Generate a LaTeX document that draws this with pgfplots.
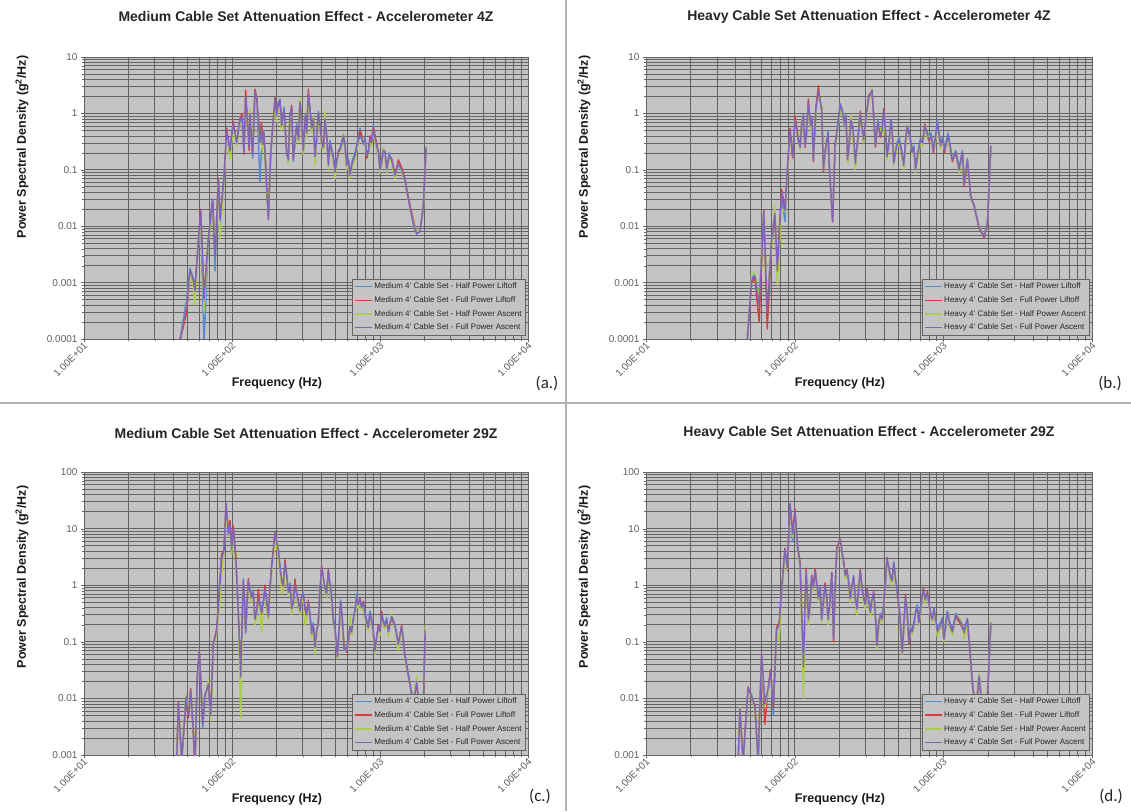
\documentclass[border=0pt]{standalone}
\usepackage{fontspec}
\setmainfont{Liberation Sans}
\newfontfamily\calib{Carlito}
\usepackage{pgfplots}
\usepackage{pgfplotstable}
\pgfplotsset{compat=1.18}

\definecolor{plotbg}{RGB}{196,196,196}
\definecolor{gridc}{RGB}{100,100,100}
\definecolor{tickc}{RGB}{95,95,95}
\definecolor{sblue}{RGB}{86,140,205}
\definecolor{sred}{RGB}{215,60,60}
\definecolor{sgreen}{RGB}{172,205,82}
\definecolor{spurple}{RGB}{128,100,186}

\pgfplotstableread{
f A B C D
43 0.00006 0.00006 0.00006 0.00006
49.4 0.0005 0.0003 0.0004 0.0004
52.0 0.0018 0.0015 0.0014 0.0017
54.8 0.0012 0.0010 0.0009 0.0011
56.2 0.0008 0.0008 0.0004 0.0007
57.7 0.0021 0.0020 0.0016 0.0019
61.4 0.017 0.020 0.015 0.019
64.7 0.00008 0.0006 0.0003 0.0005
69.2 0.0060 0.0055 0.0050 0.0058
74.0 0.031 0.027 0.024 0.029
76.8 0.0016 0.0030 0.0040 0.0028
80.8 0.060 0.070 0.055 0.066
83.0 0.012 0.014 0.006 0.013
88.3 0.075 0.065 0.060 0.070
92.0 0.45 0.55 0.40 0.50
96.9 0.25 0.20 0.15 0.22
102 0.60 0.72 0.55 0.67
107.5 0.32 0.28 0.26 0.30
113 0.70 0.80 0.65 0.76
117 0.8 1.0 0.7 0.9
120.5 0.22 0.19 0.25 0.20
123.7 1.8 2.6 1.6 2.0
128.9 0.45 0.38 0.35 0.40
130.5 0.28 0.22 0.3 0.25
132.3 0.9 1.1 1.2 1.0
137.9 0.16 0.20 0.22 0.18
143 2.2 2.7 2.0 2.4
146.8 1.7 1.9 1.5 1.8
154.6 0.06 0.35 0.28 0.30
158 0.2 0.7 0.5 0.6
161 0.25 0.45 0.22 0.28
164 0.5 0.4 0.38 0.45
167 0.22 0.20 0.18 0.20
176 0.015 0.014 0.016 0.013
182.6 0.22 0.18 0.20 0.20
195.3 1.7 1.9 1.4 1.8
200 0.95 0.85 0.7 0.9
205.7 1.6 1.4 1.2 1.5
211 1.8 1.6 1.3 1.7
216.6 0.55 0.65 0.5 0.6
224.6 1.3 1.1 0.9 1.2
234.2 0.18 0.22 0.25 0.2
240 0.17 0.14 0.13 0.15
246.6 1.0 0.85 0.8 0.9
253 1.2 1.4 1.1 1.3
259.6 0.14 0.16 0.17 0.15
266 0.33 0.28 0.26 0.3
273.5 0.65 0.55 0.5 0.6
281 0.38 0.33 0.3 0.35
288 1.5 1.7 1.9 1.6
295 0.85 0.75 0.7 0.8
303 0.25 0.2 0.18 0.22
313 0.95 0.85 0.8 0.9
320 0.5 0.42 0.38 0.45
328 2.1 2.7 1.9 2.3
336 1.3 1.1 1.0 1.2
345 0.5 0.6 0.45 0.55
354 0.85 0.75 0.9 0.8
364 0.19 0.16 0.12 0.17
373 0.38 0.33 0.3 0.35
383 1.1 0.95 0.85 1.0
393 0.65 0.55 0.5 0.6
404 0.28 0.33 0.26 0.3
414 0.27 0.23 0.22 0.25
425 0.75 0.7 1.1 0.8
436 0.45 0.38 0.35 0.4
448 0.13 0.12 0.1 0.12
459 0.33 0.28 0.26 0.3
471 0.24 0.2 0.2 0.22
484 0.17 0.15 0.14 0.16
497 0.1 0.09 0.07 0.09
510 0.15 0.13 0.12 0.14
523 0.18 0.22 0.19 0.2
544 0.28 0.24 0.22 0.25
565 0.42 0.38 0.45 0.4
580 0.3 0.26 0.24 0.28
595 0.13 0.11 0.1 0.12
611 0.16 0.14 0.13 0.15
627 0.09 0.08 0.07 0.08
652 0.15 0.13 0.12 0.14
678 0.2 0.17 0.15 0.18
705 0.33 0.28 0.26 0.3
733 0.55 0.5 0.38 0.42
772 0.28 0.32 0.35 0.3
792 0.38 0.33 0.3 0.35
813 0.2 0.16 0.18 0.18
834 0.22 0.19 0.18 0.2
856 0.33 0.4 0.3 0.35
878 0.33 0.28 0.26 0.3
901 0.65 0.55 0.45 0.5
949 0.25 0.3 0.22 0.27
975 0.22 0.19 0.18 0.2
1000 0.11 0.1 0.09 0.1
1027 0.15 0.13 0.12 0.14
1053 0.2 0.24 0.25 0.22
1080 0.22 0.19 0.18 0.2
1110 0.11 0.1 0.09 0.1
1155 0.2 0.17 0.16 0.18
1199 0.14 0.16 0.13 0.15
1263 0.09 0.08 0.07 0.08
1330 0.12 0.15 0.13 0.13
1401 0.1 0.11 0.09 0.1
1475 0.06 0.07 0.065 0.066
1554 0.03 0.032 0.028 0.03
1680 0.011 0.013 0.012 0.011
1769 0.0072 0.0078 0.008 0.0075
1863 0.0082 0.0079 0.0085 0.008
1963 0.021 0.023 0.02 0.022
2046 0.24 0.25 0.26 0.25
}\tabA

\pgfplotstableread{
f A B C D
47.4 0.00006 0.00006 0.00006 0.00006
51.2 0.0012 0.0010 0.0014 0.0011
54 0.0014 0.0012 0.0015 0.0013
57.7 0.0005 0.0002 0.0005 0.0004
62 0.016 0.019 0.017 0.018
65.4 0.0004 0.00015 0.0005 0.0003
70 0.0055 0.005 0.0045 0.006
73.6 0.018 0.015 0.025 0.017
76.4 0.002 0.0018 0.0009 0.0016
81.7 0.035 0.045 0.02 0.04
86 0.012 0.02 0.018 0.019
89 0.09 0.08 0.07 0.085
93 0.45 0.55 0.35 0.5
96.9 0.2 0.16 0.22 0.17
100.5 0.7 0.9 0.65 0.76
106 0.3 0.36 0.33 0.34
109 0.27 0.23 0.22 0.25
111.5 0.6 0.7 0.75 0.67
114.5 0.95 0.85 0.8 0.9
117.5 0.3 0.25 0.28 0.27
120.5 0.55 0.45 0.42 0.5
123.7 1.5 1.8 1.4 1.6
126 0.95 0.85 0.8 0.9
128 0.55 0.65 0.5 0.6
131 0.85 0.75 0.7 0.8
133.5 0.17 0.14 0.16 0.15
139 1.1 1.3 1.0 1.2
144.5 2.3 3.1 2.2 2.6
148 1.8 1.6 1.5 1.7
152 1.1 1.3 1.4 1.2
156 0.12 0.09 0.1 0.1
160 0.22 0.18 0.17 0.2
164.5 0.3 0.36 0.4 0.34
167.5 0.5 0.42 0.38 0.45
171 0.13 0.11 0.12 0.12
180 0.013 0.012 0.014 0.012
187 0.25 0.3 0.24 0.27
195 0.65 0.55 0.5 0.6
202.5 1.5 1.3 1.2 1.4
209 1.2 1.0 0.95 1.1
215.5 0.6 0.75 0.65 0.67
221 0.95 0.85 0.8 0.9
227 0.16 0.14 0.13 0.15
233 0.33 0.28 0.26 0.3
239 0.7 0.8 0.9 0.76
247 0.55 0.45 0.42 0.5
255.7 0.14 0.12 0.1 0.13
266 0.38 0.32 0.3 0.35
276.3 0.95 1.1 1.0 1.0
283 0.65 0.55 0.5 0.6
291 0.36 0.32 0.3 0.34
303 0.95 0.85 0.8 0.9
314.8 1.8 2.1 1.6 1.9
331.5 2.4 2.4 2.8 2.6
340 0.95 0.85 0.8 0.9
349 0.3 0.25 0.28 0.27
363 0.75 0.65 0.6 0.7
377 0.45 0.38 0.55 0.4
387 0.55 0.45 0.42 0.5
397 1.0 1.2 0.9 1.1
407 0.55 0.45 0.42 0.5
418 0.2 0.16 0.15 0.17
431 0.33 0.28 0.26 0.3
445 0.8 0.7 0.65 0.76
454 0.45 0.38 0.35 0.4
464 0.14 0.13 0.12 0.13
483 0.27 0.23 0.22 0.25
502 0.38 0.32 0.3 0.34
522 0.24 0.2 0.19 0.22
542 0.11 0.12 0.1 0.12
556 0.33 0.28 0.26 0.3
571 0.6 0.55 0.65 0.6
594 0.45 0.38 0.35 0.4
617 0.22 0.2 0.18 0.2
633 0.27 0.23 0.22 0.25
650 0.1 0.11 0.09 0.1
676 0.22 0.18 0.17 0.2
703 0.36 0.32 0.3 0.34
726 0.33 0.28 0.26 0.3
749 0.55 0.65 0.6 0.6
775 0.5 0.42 0.38 0.45
801 0.36 0.32 0.4 0.34
828 0.45 0.38 0.35 0.4
856 0.24 0.2 0.22 0.22
883 0.38 0.32 0.3 0.35
911 0.75 0.6 0.55 0.67
959 0.3 0.25 0.24 0.27
990 0.38 0.32 0.3 0.35
1021 0.24 0.2 0.22 0.22
1048 0.33 0.28 0.26 0.3
1075 0.45 0.38 0.35 0.4
1112 0.27 0.23 0.22 0.25
1151 0.16 0.14 0.17 0.15
1212 0.22 0.2 0.18 0.2
1276 0.11 0.1 0.09 0.1
1344 0.22 0.2 0.19 0.2
1379 0.06 0.05 0.055 0.055
1452 0.16 0.14 0.15 0.15
1530 0.03 0.035 0.033 0.034
1612 0.024 0.022 0.023 0.023
1740 0.0098 0.0092 0.01 0.0095
1880 0.0068 0.0062 0.0066 0.0065
1980 0.012 0.011 0.011 0.011
2085 0.27 0.26 0.25 0.26
}\tabB

\pgfplotstableread{
f A B C D
42.3 0.0008 0.0008 0.0008 0.0008
43.4 0.0075 0.0085 0.007 0.0082
45.7 0.0008 0.0008 0.0008 0.0008
48.9 0.011 0.009 0.012 0.0107
50.7 0.0055 0.0045 0.006 0.005
52.6 0.013 0.015 0.012 0.014
54.8 0.003 0.0022 0.0028 0.0025
56.2 0.0008 0.0006 0.0009 0.0008
58.3 0.022 0.026 0.02 0.024
60.2 0.065 0.07 0.06 0.072
63.4 0.003 0.004 0.0045 0.0034
65.7 0.012 0.01 0.009 0.011
69.2 0.016 0.02 0.022 0.018
71.8 0.0045 0.006 0.004 0.005
74.8 0.085 0.095 0.08 0.09
78.8 0.15 0.17 0.14 0.16
82.1 0.8 0.7 0.4 0.72
85.1 3.0 3.5 1.6 3.2
88.3 3.8 4.3 3.5 4
91.1 25 27 24 28
94.5 7.5 9 7 8
96.9 11 14 10 12
99.5 4.5 5 3.5 4.2
102.1 9 11 8 10
106.4 2.6 3 2.2 2.5
110.3 0.35 0.3 0.28 0.32
114.5 0.03 0.026 0.0045 0.024
119.3 1.3 1.1 1.0 1.2
121.5 0.55 0.45 0.42 0.5
123.7 0.14 0.17 0.16 0.15
126 0.45 0.38 0.35 0.4
128.9 1.1 1.3 1.0 1.2
132 0.85 0.75 0.7 0.8
135.8 0.65 0.55 0.5 0.6
139 0.8 0.7 0.65 0.75
143 0.22 0.3 0.2 0.25
147 0.38 0.32 0.3 0.35
150.6 0.55 0.85 0.5 0.6
154.5 0.5 0.42 0.38 0.45
158.7 0.35 0.3 0.15 0.32
163 0.55 0.45 0.42 0.5
167.1 0.8 1.0 0.7 0.85
171.5 0.55 0.45 0.42 0.5
176 0.3 0.25 0.24 0.28
180.5 0.95 0.85 0.8 0.9
185.3 1.8 2.2 1.6 2
195.3 8 8.5 6 8.3
200.5 5.8 5 4.7 5.5
205.7 3.8 4.3 3.5 4
211 2.2 1.8 1.7 2
216.6 1.1 1.3 0.7 1.2
222 1.1 0.9 0.85 1.0
228.2 2.3 2.8 2.0 2.5
234 1.6 1.4 1.3 1.5
240.3 0.8 0.7 0.65 0.75
247 1.1 0.9 0.85 1.0
253.1 0.4 0.42 0.3 0.38
260 0.55 0.45 0.42 0.5
266.5 0.95 1.3 0.9 1.0
273.5 0.75 0.65 0.6 0.7
280.7 0.45 0.55 0.42 0.5
288 0.38 0.32 0.3 0.35
295.6 0.65 0.6 0.5 0.6
303 0.75 0.65 0.6 0.7
311.3 0.35 0.42 0.2 0.38
319.5 0.33 0.28 0.26 0.3
328 0.45 0.55 0.45 0.5
336 0.33 0.28 0.26 0.3
345.4 0.15 0.13 0.12 0.14
354.5 0.22 0.18 0.17 0.2
363.8 0.085 0.075 0.06 0.08
373 0.16 0.14 0.13 0.15
383.2 0.2 0.25 0.22 0.22
393 0.85 0.75 0.7 0.8
403.6 2.0 2.2 1.8 2.1
425.1 0.9 0.8 0.75 0.85
436 0.75 0.65 0.6 0.7
447.7 1.7 1.9 1.6 1.8
459 1.1 0.9 0.85 1.0
471.5 0.65 0.55 0.5 0.6
483 0.27 0.23 0.22 0.25
496.5 0.18 0.16 0.15 0.17
515 0.06 0.05 0.05 0.055
528 0.16 0.14 0.13 0.15
542.3 0.55 0.45 0.4 0.5
556 0.27 0.23 0.22 0.25
571.2 0.07 0.09 0.08 0.08
595.4 0.075 0.065 0.07 0.07
611 0.11 0.09 0.085 0.1
627 0.2 0.18 0.3 0.19
643 0.16 0.14 0.13 0.15
660.5 0.26 0.24 0.22 0.25
678 0.38 0.32 0.3 0.35
695.7 0.7 0.55 0.5 0.6
713 0.5 0.42 0.38 0.45
732.6 0.5 0.6 0.55 0.55
752 0.45 0.38 0.35 0.4
771.6 0.48 0.52 0.45 0.5
792 0.33 0.28 0.26 0.3
812.7 0.25 0.2 0.2 0.22
834 0.2 0.17 0.16 0.18
856 0.35 0.3 0.28 0.32
890 0.22 0.18 0.17 0.2
925.1 0.08 0.07 0.06 0.07
974.4 0.18 0.2 0.17 0.19
1000 0.16 0.14 0.13 0.15
1026 0.3 0.35 0.28 0.32
1053 0.24 0.2 0.19 0.22
1081 0.2 0.18 0.17 0.19
1110 0.27 0.23 0.22 0.25
1139 0.14 0.16 0.12 0.15
1199 0.3 0.26 0.32 0.28
1263 0.2 0.18 0.17 0.19
1330 0.095 0.085 0.07 0.09
1401 0.18 0.2 0.19 0.19
1475 0.06 0.05 0.05 0.055
1595 0.019 0.017 0.018 0.018
1680 0.0085 0.0075 0.009 0.008
1769 0.021 0.019 0.025 0.02
1863 0.0055 0.005 0.0045 0.005
1942 0.0022 0.0018 0.002 0.002
2015 0.15 0.16 0.19 0.16
}\tabC

\pgfplotstableread{
f A B C D
41.7 0.0008 0.0008 0.0008 0.0008
42.8 0.006 0.0065 0.007 0.0066
45 0.0008 0.0008 0.0008 0.0008
48.6 0.014 0.016 0.013 0.015
51.2 0.012 0.01 0.011 0.011
54 0.0065 0.0075 0.006 0.007
56.8 0.0008 0.0008 0.0008 0.0008
59.9 0.055 0.06 0.05 0.06
63 0.009 0.0035 0.007 0.008
66.4 0.014 0.016 0.013 0.015
68.8 0.028 0.032 0.025 0.03
71.8 0.005 0.007 0.009 0.008
75.6 0.16 0.18 0.15 0.17
78.8 0.2 0.22 0.1 0.2
81.7 0.75 0.85 0.7 0.8
86 4 4.5 3.5 4.3
89.2 2.2 1.8 1.9 2
93 26 27 24 28
96.9 6 9 7 8
100.5 18 22 17 20
104.2 5.5 5 4.5 5
108.6 2.2 2.6 2.0 2.4
114.5 0.04 0.033 0.01 0.036
119.3 1.6 2.0 1.7 1.8
121.5 0.75 0.65 0.6 0.7
123.7 0.28 0.22 0.2 0.25
127 0.5 0.42 0.38 0.45
130.3 1.3 1.5 1.2 1.4
133.7 0.95 0.85 0.8 0.9
137.2 1.7 2.0 1.6 1.8
144.5 0.6 0.55 0.5 0.58
148 0.95 0.85 0.8 0.9
152 0.27 0.24 0.22 0.25
156 0.55 0.45 0.42 0.5
160 0.95 1.1 0.9 1.0
164 0.65 0.55 0.5 0.6
168 0.22 0.28 0.2 0.25
172.8 0.55 0.45 0.42 0.5
177.8 1.5 1.7 1.4 1.6
182.6 0.12 0.1 0.11 0.11
187 0.85 0.75 0.7 0.8
192 4 4.6 3.8 4.3
202.5 6 6.5 5.8 6.3
207.7 4.3 3.7 3.5 4
213 2.4 2.8 2.3 2.6
218.7 1.6 1.4 1.3 1.5
224.6 1.7 1.9 1.6 1.8
230 1.3 1.1 1.0 1.2
236 0.55 0.6 0.5 0.58
242.5 0.95 0.85 0.8 0.9
249 1.5 1.3 1.2 1.4
255.5 0.65 0.55 0.5 0.6
262 0.4 0.36 0.3 0.38
269 0.85 0.75 0.7 0.8
276 1.7 1.9 1.6 1.8
283.5 0.95 0.85 0.8 0.9
291 0.55 0.62 0.5 0.58
299 0.5 0.42 0.38 0.45
307 0.8 0.9 0.75 0.85
315 0.55 0.45 0.42 0.5
323 0.35 0.3 0.28 0.33
331.5 0.6 0.5 0.47 0.55
340 0.7 0.8 0.65 0.75
349 0.33 0.28 0.26 0.3
358 0.09 0.08 0.075 0.085
367 0.22 0.18 0.17 0.2
377 0.32 0.28 0.3 0.3
387 0.27 0.23 0.22 0.25
397 0.5 0.42 0.4 0.45
407 1.2 1.0 0.95 1.1
418 2.8 3.1 2.6 3
429 2.2 1.8 1.7 2
441 1.5 1.3 1.2 1.4
452 1.3 1.1 1.0 1.2
464 2.6 2.2 2.0 2.4
476 1.4 1.2 1.1 1.3
489 0.8 0.7 0.7 0.75
509 0.33 0.28 0.26 0.3
529 0.07 0.06 0.06 0.065
543 0.22 0.18 0.17 0.2
557 0.6 0.7 0.6 0.65
572 0.33 0.28 0.26 0.3
587 0.11 0.09 0.1 0.1
602 0.18 0.16 0.15 0.17
617 0.16 0.14 0.13 0.15
633 0.22 0.18 0.17 0.2
650 0.35 0.3 0.28 0.33
667 0.45 0.38 0.35 0.4
685 0.24 0.2 0.2 0.22
709 0.5 0.42 0.38 0.45
733 0.8 0.9 0.75 0.85
757 0.6 0.5 0.47 0.55
780 0.7 0.8 0.7 0.75
822 0.32 0.28 0.28 0.3
843 0.27 0.23 0.22 0.25
865 0.4 0.36 0.35 0.38
888 0.27 0.23 0.22 0.25
911 0.18 0.14 0.12 0.15
959 0.22 0.18 0.19 0.2
984 0.27 0.23 0.22 0.25
1010 0.12 0.1 0.1 0.11
1037 0.22 0.18 0.17 0.2
1064 0.35 0.3 0.32 0.33
1107 0.22 0.18 0.17 0.2
1151 0.16 0.14 0.13 0.15
1212 0.32 0.28 0.3 0.3
1310 0.24 0.2 0.25 0.22
1379 0.16 0.14 0.11 0.15
1452 0.26 0.24 0.22 0.25
1570 0.019 0.017 0.018 0.018
1653 0.0065 0.0055 0.006 0.006
1740 0.026 0.024 0.028 0.025
1833 0.0065 0.0055 0.006 0.006
1930 0.0025 0.0022 0.0028 0.0025
2085 0.2 0.21 0.24 0.22
}\tabD

\pgfplotsset{
  legend image code/.code={\draw[#1, line width=1.4pt] (0pt,0pt) -- (17pt,0pt);},
  every axis/.append style={
    scale only axis,
    axis background/.style={fill=plotbg},
    grid=both,
    major grid style={draw=gridc, line width=0.8pt},
    minor grid style={draw=gridc, line width=0.6pt},
    axis line style={draw=gridc},
    xticklabel style={rotate=45, anchor=east, font=\fontsize{10}{12}\selectfont, text=tickc, xshift=3pt, yshift=-3pt},
    yticklabel style={font=\fontsize{10}{12}\selectfont, text=tickc},
    tick align=outside, major tick length=3pt, minor tick length=2pt,
    tick style={draw=gridc},
    xtick pos=bottom, ytick pos=left,
    legend cell align=left,
    legend style={anchor=south east, fill=plotbg, draw=gridc,
      font=\fontsize{8}{9.5}\selectfont, text=black!85, inner sep=1.5pt, row sep=2.4pt},
  },
  every axis plot/.append style={line width=1.4pt, line join=round},
}

\begin{document}
\begin{tikzpicture}[x=1pt,y=1pt]
\useasboundingbox (0,0) rectangle (1131,811);
\fill[white] (0,0) rectangle (1131,811);
\draw[black!30, line width=2pt] (0,408) -- (1131,408);
\draw[black!30, line width=2pt] (566,0) -- (566,811);

% (a)
\begin{axis}[at={(84pt,472pt)}, anchor=south west, width=444pt, height=282pt,
  xmode=log, ymode=log, xmin=10, xmax=10000, ymin=0.0001, ymax=10,
  xtick={10,100,1000,10000},
  xticklabels={1.00E+01,1.00E+02,1.00E+03,1.00E+04},
  minor xtick={20,30,40,50,60,70,80,90,200,300,400,500,600,700,800,900,2000,3000,4000,5000,6000,7000,8000,9000},
  ytick={0.0001,0.001,0.01,0.1,1,10},
  yticklabels={0.0001,0.001,0.01,0.1,1,10},
  minor ytick={0.0002,0.0003,0.0004,0.0005,0.0006,0.0007,0.0008,0.0009,0.002,0.003,0.004,0.005,0.006,0.007,0.008,0.009,0.02,0.03,0.04,0.05,0.06,0.07,0.08,0.09,0.2,0.3,0.4,0.5,0.6,0.7,0.8,0.9,2,3,4,5,6,7,8,9},
  legend style={at={(0.994,0.014)}}]
\addplot[sblue] table[x=f,y=A] {\tabA};
\addplot[sred] table[x=f,y=B] {\tabA};
\addplot[sgreen] table[x=f,y=C] {\tabA};
\addplot[spurple] table[x=f,y=D] {\tabA};
\legend{Medium 4' Cable Set - Half Power Liftoff,Medium 4' Cable Set - Full Power Liftoff,Medium 4' Cable Set - Half Power Ascent,Medium 4' Cable Set - Full Power Ascent}
\end{axis}

% (b)
\begin{axis}[at={(646pt,472pt)}, anchor=south west, width=446pt, height=282pt,
  xmode=log, ymode=log, xmin=10, xmax=10000, ymin=0.0001, ymax=10,
  xtick={10,100,1000,10000},
  xticklabels={1.00E+01,1.00E+02,1.00E+03,1.00E+04},
  minor xtick={20,30,40,50,60,70,80,90,200,300,400,500,600,700,800,900,2000,3000,4000,5000,6000,7000,8000,9000},
  ytick={0.0001,0.001,0.01,0.1,1,10},
  yticklabels={0.0001,0.001,0.01,0.1,1,10},
  minor ytick={0.0002,0.0003,0.0004,0.0005,0.0006,0.0007,0.0008,0.0009,0.002,0.003,0.004,0.005,0.006,0.007,0.008,0.009,0.02,0.03,0.04,0.05,0.06,0.07,0.08,0.09,0.2,0.3,0.4,0.5,0.6,0.7,0.8,0.9,2,3,4,5,6,7,8,9},
  legend style={at={(0.994,0.014)}}]
\addplot[sblue] table[x=f,y=A] {\tabB};
\addplot[sred] table[x=f,y=B] {\tabB};
\addplot[sgreen] table[x=f,y=C] {\tabB};
\addplot[spurple] table[x=f,y=D] {\tabB};
\legend{Heavy 4' Cable Set - Half Power Liftoff,Heavy 4' Cable Set - Full Power Liftoff,Heavy 4' Cable Set - Half Power Ascent,Heavy 4' Cable Set - Full Power Ascent}
\end{axis}

% (c)
\begin{axis}[at={(84pt,56pt)}, anchor=south west, width=444pt, height=283pt,
  xmode=log, ymode=log, xmin=10, xmax=10000, ymin=0.001, ymax=100,
  xtick={10,100,1000,10000},
  xticklabels={1.00E+01,1.00E+02,1.00E+03,1.00E+04},
  minor xtick={20,30,40,50,60,70,80,90,200,300,400,500,600,700,800,900,2000,3000,4000,5000,6000,7000,8000,9000},
  ytick={0.001,0.01,0.1,1,10,100},
  yticklabels={0.001,0.01,0.1,1,10,100},
  minor ytick={0.002,0.003,0.004,0.005,0.006,0.007,0.008,0.009,0.02,0.03,0.04,0.05,0.06,0.07,0.08,0.09,0.2,0.3,0.4,0.5,0.6,0.7,0.8,0.9,2,3,4,5,6,7,8,9,20,30,40,50,60,70,80,90},
  legend style={at={(0.994,0.018)}}]
\addplot[sblue] table[x=f,y=A] {\tabC};
\addplot[sred] table[x=f,y=B] {\tabC};
\addplot[sgreen] table[x=f,y=C] {\tabC};
\addplot[spurple] table[x=f,y=D] {\tabC};
\legend{Medium 4' Cable Set - Half Power Liftoff,Medium 4' Cable Set - Full Power Liftoff,Medium 4' Cable Set - Half Power Ascent,Medium 4' Cable Set - Full Power Ascent}
\end{axis}

% (d)
\begin{axis}[at={(646pt,56pt)}, anchor=south west, width=446pt, height=283pt,
  xmode=log, ymode=log, xmin=10, xmax=10000, ymin=0.001, ymax=100,
  xtick={10,100,1000,10000},
  xticklabels={1.00E+01,1.00E+02,1.00E+03,1.00E+04},
  minor xtick={20,30,40,50,60,70,80,90,200,300,400,500,600,700,800,900,2000,3000,4000,5000,6000,7000,8000,9000},
  ytick={0.001,0.01,0.1,1,10,100},
  yticklabels={0.001,0.01,0.1,1,10,100},
  minor ytick={0.002,0.003,0.004,0.005,0.006,0.007,0.008,0.009,0.02,0.03,0.04,0.05,0.06,0.07,0.08,0.09,0.2,0.3,0.4,0.5,0.6,0.7,0.8,0.9,2,3,4,5,6,7,8,9,20,30,40,50,60,70,80,90},
  legend style={at={(0.994,0.018)}}]
\addplot[sblue] table[x=f,y=A] {\tabD};
\addplot[sred] table[x=f,y=B] {\tabD};
\addplot[sgreen] table[x=f,y=C] {\tabD};
\addplot[spurple] table[x=f,y=D] {\tabD};
\legend{Heavy 4' Cable Set - Half Power Liftoff,Heavy 4' Cable Set - Full Power Liftoff,Heavy 4' Cable Set - Half Power Ascent,Heavy 4' Cable Set - Full Power Ascent}
\end{axis}

% titles and labels
\tikzset{ttl/.style={font=\bfseries\fontsize{14}{16}\selectfont, text=black!85},
         lab/.style={font=\bfseries\fontsize{12.5}{14}\selectfont, text=black!90},
         pan/.style={font=\calib\fontsize{17}{19}\selectfont, text=black!85}}
\node[ttl] at (306,794) {Medium Cable Set Attenuation Effect - Accelerometer 4Z};
\node[ttl] at (869,794) {Heavy Cable Set Attenuation Effect - Accelerometer 4Z};
\node[ttl] at (306,378) {Medium Cable Set Attenuation Effect - Accelerometer 29Z};
\node[ttl] at (869,378) {Heavy Cable Set Attenuation Effect - Accelerometer 29Z};

\node[lab, rotate=90] at (22,664) {Power Spectral Density (g\textsuperscript{2}/Hz)};
\node[lab, rotate=90] at (584,664) {Power Spectral Density (g\textsuperscript{2}/Hz)};
\node[lab, rotate=90] at (22,234) {Power Spectral Density (g\textsuperscript{2}/Hz)};
\node[lab, rotate=90] at (584,234) {Power Spectral Density (g\textsuperscript{2}/Hz)};

\node[lab] at (277,428) {Frequency (Hz)};
\node[lab] at (840,428) {Frequency (Hz)};
\node[lab] at (277,12) {Frequency (Hz)};
\node[lab] at (840,12) {Frequency (Hz)};

\node[pan] at (547,428) {(a.)};
\node[pan] at (1110,428) {(b.)};
\node[pan] at (540,15) {(c.)};
\node[pan] at (1111,15) {(d.)};
\end{tikzpicture}
\end{document}
